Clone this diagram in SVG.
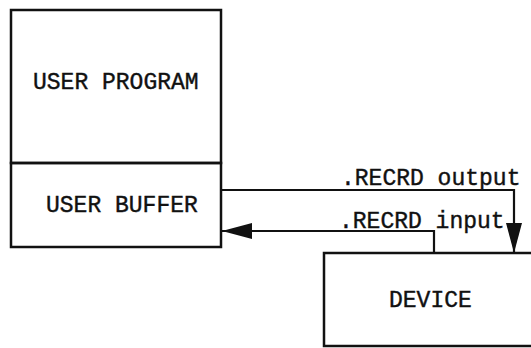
<svg xmlns="http://www.w3.org/2000/svg" width="531" height="348" viewBox="0 0 531 348">
<style>
.box{fill:none;stroke:#111;stroke-width:2.5}
.ln{fill:none;stroke:#111;stroke-width:2.2}
text{font-family:"Liberation Mono","Courier New",monospace;font-size:23px;fill:#111;stroke:#111;stroke-width:0.4}
</style>
<defs>
<marker id="arr" viewBox="0 0 30 16" refX="30" refY="8" markerWidth="30" markerHeight="16" markerUnits="userSpaceOnUse" orient="auto">
<path d="M0,0 L30,8 L0,16 z" fill="#111"/>
</marker>
</defs>
<rect width="531" height="348" fill="#fff"/>
<g id="user-program">
<rect class="box" x="11" y="10" width="210" height="153"/>
<text x="33" y="89">USER PROGRAM</text>
</g>
<g id="user-buffer">
<rect class="box" x="11" y="163" width="210" height="84"/>
<text x="46" y="212">USER BUFFER</text>
</g>
<g id="device">
<path class="box" d="M533,253 H324 V346 H533"/>
<text x="389" y="307">DEVICE</text>
</g>
<g id="connectors">
<path class="ln" d="M221,190 H514 V253" marker-end="url(#arr)"/>
<text x="341" y="185">.RECRD output</text>
<path class="ln" d="M434,253 V231 H222" marker-end="url(#arr)"/>
<text x="339" y="228">.RECRD input</text>
</g>
</svg>
